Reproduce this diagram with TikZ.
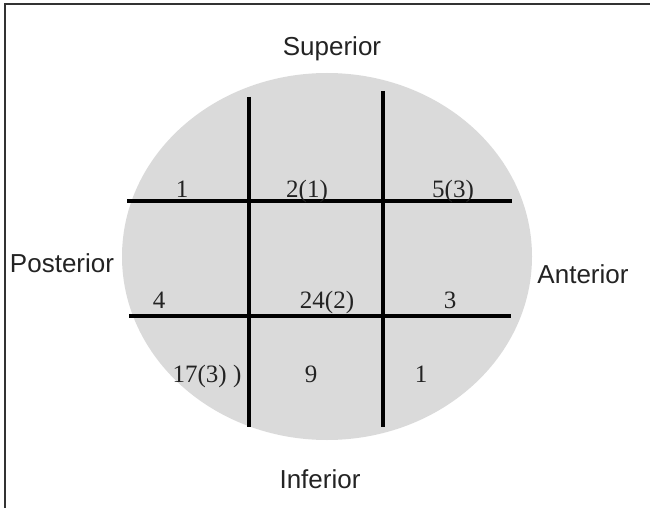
\documentclass[tikz,border=0pt]{standalone}
\usepackage{fontspec}
\setmainfont{Liberation Serif}
\setsansfont{Liberation Sans}
\usetikzlibrary{positioning}
\definecolor{discgray}{RGB}{218,218,218}
\definecolor{inkgray}{RGB}{35,35,35}
\tikzset{
  side/.style={font=\sffamily\fontsize{26}{30}\selectfont, text=inkgray, inner sep=0pt, anchor=base},
  count/.style={font=\rmfamily\fontsize{25}{30}\selectfont, text=inkgray, inner sep=0pt, anchor=base},
  gridline/.style={line width=4pt, black},
  frameline/.style={line width=2pt, black!80}
}

\begin{document}
\begin{tikzpicture}[x=1pt, y=-1pt]
\useasboundingbox (0,0) rectangle (650,508);
% frame, top and left side only
\draw[frameline] (5,508) -- (5,4) -- (650,4);
% disc
\fill[discgray] (327,256.5) ellipse [x radius=205pt, y radius=183.5pt];
% grid
\coordinate (topW) at (127,201);
\coordinate (topE) at (512,201);
\coordinate (lowW) at (129,316);
\coordinate (lowE) at (511,316);
\coordinate (postN) at (249,97);
\coordinate (postS) at (249,427);
\coordinate (antN) at (383,91);
\coordinate (antS) at (383,427);
\draw[gridline] (topW) -- (topE);
\draw[gridline] (lowW) -- (lowE);
\draw[gridline] (postN) -- (postS);
\draw[gridline] (antN) -- (antS);
% sides
\node[side] (sup) at (332,56) {Superior};
\node[side] (inf) at (320,488) {Inferior};
\node[side] (post) at (62,272) {Posterior};
\node[side] (ant) at (583,283) {Anterior};
% counts
\node[count] (c11) at (182,197) {1};
\node[count] (c12) at (307,197) {2(1)};
\node[count] (c13) at (453,197) {5(3)};
\node[count] (c21) at (159,308) {4};
\node[count] (c22) at (327,308) {24(2)};
\node[count] (c23) at (450,308) {3};
\node[count] (c31) at (207,382) {17(3) )};
\node[count] (c32) at (311,382) {9};
\node[count] (c33) at (421,382) {1};
\end{tikzpicture}
\end{document}
